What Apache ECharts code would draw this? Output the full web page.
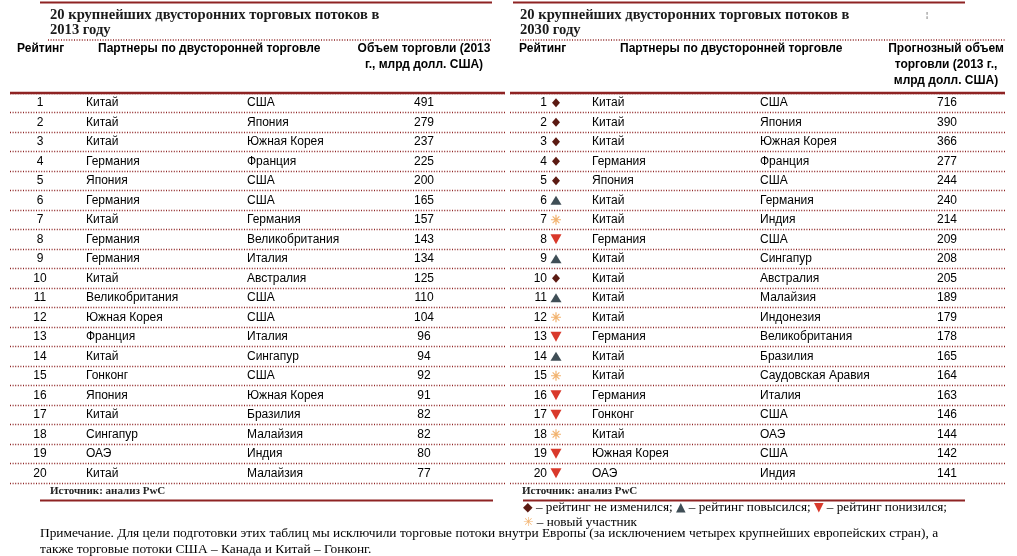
<!DOCTYPE html>
<html><head><meta charset="utf-8">
<script src="https://cdn.jsdelivr.net/npm/echarts@6/dist/echarts.min.js"></script>
<style>html,body{margin:0;padding:0;background:#fff}#c{width:1017px;height:556px}</style>
</head><body><div id="c"></div>
<script>
// ---------- data ----------
const ranks = ['1','2','3','4','5','6','7','8','9','10','11','12','13','14','15','16','17','18','19','20'];
const partnerA2013 = ['Китай','Китай','Китай','Германия','Япония','Германия','Китай','Германия','Германия','Китай','Великобритания','Южная Корея','Франция','Китай','Гонконг','Япония','Китай','Сингапур','ОАЭ','Китай'];
const partnerB2013 = ['США','Япония','Южная Корея','Франция','США','США','Германия','Великобритания','Италия','Австралия','США','США','Италия','Сингапур','США','Южная Корея','Бразилия','Малайзия','Индия','Малайзия'];
const volume2013 = [491,279,237,225,200,165,157,143,134,125,110,104,96,94,92,91,82,82,80,77];
const partnerA2030 = ['Китай','Китай','Китай','Германия','Япония','Китай','Китай','Германия','Китай','Китай','Китай','Китай','Германия','Китай','Китай','Германия','Гонконг','Китай','Южная Корея','ОАЭ'];
const partnerB2030 = ['США','Япония','Южная Корея','Франция','США','Германия','Индия','США','Сингапур','Австралия','Малайзия','Индонезия','Великобритания','Бразилия','Саудовская Аравия','Италия','США','ОАЭ','США','Индия'];
const volume2030 = [716,390,366,277,244,240,214,209,208,205,189,179,178,165,164,163,146,144,142,141];
const rankChange2030 = ['same','same','same','same','same','up','new','down','up','same','up','new','down','up','new','down','down','new','down','down'];

// ---------- layout / style ----------
const RED = '#8e2323';
const SANS = 'Liberation Sans';
const SERIF = 'Liberation Serif';
const INK = '#000';
const ASTER = 'path://M4.4 0h1.2v10h-1.2zM0 4.4h10v1.2h-10zM1.2 2.05L2.05 1.2L8.8 7.95L7.95 8.8zM7.95 1.2L8.8 2.05L2.05 8.8L1.2 7.95z';
const symStyle = {
  same: {symbol: 'diamond', symbolSize: [8, 9], symbolRotate: 0, color: '#5b1a12'},
  up:   {symbol: 'triangle', symbolSize: [11, 9], symbolRotate: 0, color: '#3f4e56'},
  down: {symbol: 'triangle', symbolSize: [11, 10], symbolRotate: 180, color: '#d9392b'},
  new:  {symbol: ASTER, symbolSize: 10, symbolRotate: 0, color: '#f2b36f'}
};

function grid(left) { return {left: left, width: 495, top: 93, height: 390}; }
// one category axis per column; labels drawn inside the grid at column offsets
function colAxis(gi, margin, align, values) {
  return {
    type: 'category', gridIndex: gi, data: ranks, inverse: true, position: 'left', offset: 0,
    axisLine: {show: false}, axisTick: {show: false}, splitLine: {show: false},
    axisLabel: {show: true, inside: true, margin: margin, align: align, interval: 0,
      formatter: (v, idx) => String(values[idx]),
      color: INK, fontFamily: SANS, fontSize: 12, fontWeight: 'normal'}
  };
}
// row separators (dotted) from a label-less category axis
function sepAxis(gi) {
  return {
    type: 'category', gridIndex: gi, data: ranks, inverse: true, position: 'left', offset: 0,
    axisLine: {show: false}, axisTick: {show: false}, axisLabel: {show: false},
    splitLine: {show: true, lineStyle: {color: RED, width: 1.3, type: [1, 1.6]}}
  };
}
function xAxis(gi) { return {type: 'value', gridIndex: gi, min: 0, max: 495, show: false}; }

const yAxes = [
  sepAxis(0),
  colAxis(0, 30, 'center', ranks),
  colAxis(0, 76, 'left', partnerA2013),
  colAxis(0, 237, 'left', partnerB2013),
  colAxis(0, 414, 'center', volume2013),
  sepAxis(1),
  colAxis(1, 37, 'right', ranks),
  colAxis(1, 82, 'left', partnerA2030),
  colAxis(1, 250, 'left', partnerB2030),
  colAxis(1, 437, 'center', volume2030)
];

const series = [
  {
    type: 'scatter', xAxisIndex: 0, yAxisIndex: 0, silent: true, data: []
  },
  {
    type: 'scatter', xAxisIndex: 1, yAxisIndex: 5, silent: true,
    data: rankChange2030.map((c, i) => ({
      value: [46, ranks[i]], symbol: symStyle[c].symbol,
      symbolSize: symStyle[c].symbolSize, symbolRotate: symStyle[c].symbolRotate,
      itemStyle: {color: symStyle[c].color, opacity: 1}
    }))
  }
];

function line(x1, x2, y, w, dash) {
  return {type: 'line', z: 100, shape: {x1, y1: y, x2, y2: y},
    style: {stroke: RED, lineWidth: w, lineDash: dash || null}};
}
function txt(x, y, text, o) {
  return {type: 'text', z: 100, x, y, style: Object.assign({text, fill: INK,
    fontFamily: SANS, fontSize: 12, verticalAlign: 'middle', align: 'left'}, o || {})};
}
const titleStyle = {fontFamily: SERIF, fontWeight: 'bold', fontSize: 14.6, lineHeight: 15, verticalAlign: 'top', fill: '#1a1a1a'};
const headStyle = {fontWeight: 'bold', lineHeight: 16, verticalAlign: 'top'};
const srcStyle = {fontFamily: SERIF, fontSize: 11, fontWeight: 'bold', fill: '#222'};
const legRich = (c) => ({fill: c, fontFamily: 'DejaVu Sans', fontSize: 12.5});
const graphic = [
  line(40, 492, 2.5, 2.2), line(513, 965, 2.5, 2.2),
  line(48, 492, 40, 1.4, [1, 1.6]), line(520, 1005, 40, 1.4, [1, 1.6]),
  line(10, 505, 93, 2.6), line(510, 1005, 93, 2.6),
  line(40, 493, 500.5, 2), line(523, 965, 500.5, 2),
  txt(50, 8, '20 крупнейших двусторонних торговых потоков в\n2013 году', titleStyle),
  txt(520, 8, '20 крупнейших двусторонних торговых потоков в\n2030 году', titleStyle),
  txt(926, 15, '¦', {fontSize: 8, fill: '#444'}),
  txt(17, 41, 'Рейтинг', headStyle),
  txt(98, 41, 'Партнеры по двусторонней торговле', headStyle),
  txt(424, 41, 'Объем торговли (2013\nг., млрд долл. США)', Object.assign({}, headStyle, {align: 'center'})),
  txt(519, 41, 'Рейтинг', headStyle),
  txt(620, 41, 'Партнеры по двусторонней торговле', headStyle),
  txt(946, 41, 'Прогнозный объем\nторговли (2013 г.,\nмлрд долл. США)', Object.assign({}, headStyle, {align: 'center'})),
  txt(50, 491, 'Источник: анализ PwC', srcStyle),
  txt(522, 491, 'Источник: анализ PwC', srcStyle),
  txt(523, 500, '{d|◆} – рейтинг не изменился; {u|▲} – рейтинг повысился; {w|▼} – рейтинг понизился;\n{n|✳} – новый участник', {
    fontFamily: SERIF, fontSize: 13.2, lineHeight: 15, verticalAlign: 'top',
    rich: {d: legRich('#5b1a12'), u: legRich('#3f4e56'), w: legRich('#d9392b'), n: legRich('#f2b36f')}
  }),
  txt(40, 525, 'Примечание. Для цели подготовки этих таблиц мы исключили торговые потоки внутри Европы (за исключением четырех крупнейших европейских стран), а\nтакже торговые потоки США – Канада и Китай – Гонконг.', {
    fontFamily: SERIF, fontSize: 13.4, lineHeight: 16, verticalAlign: 'top'})
];

const chart = echarts.init(document.getElementById('c'));
chart.setOption({
  animation: false,
  backgroundColor: '#fff',
  grid: [grid(10), grid(510)],
  xAxis: [xAxis(0), xAxis(1)],
  yAxis: yAxes,
  series: series,
  graphic: graphic
});
</script></body></html>
